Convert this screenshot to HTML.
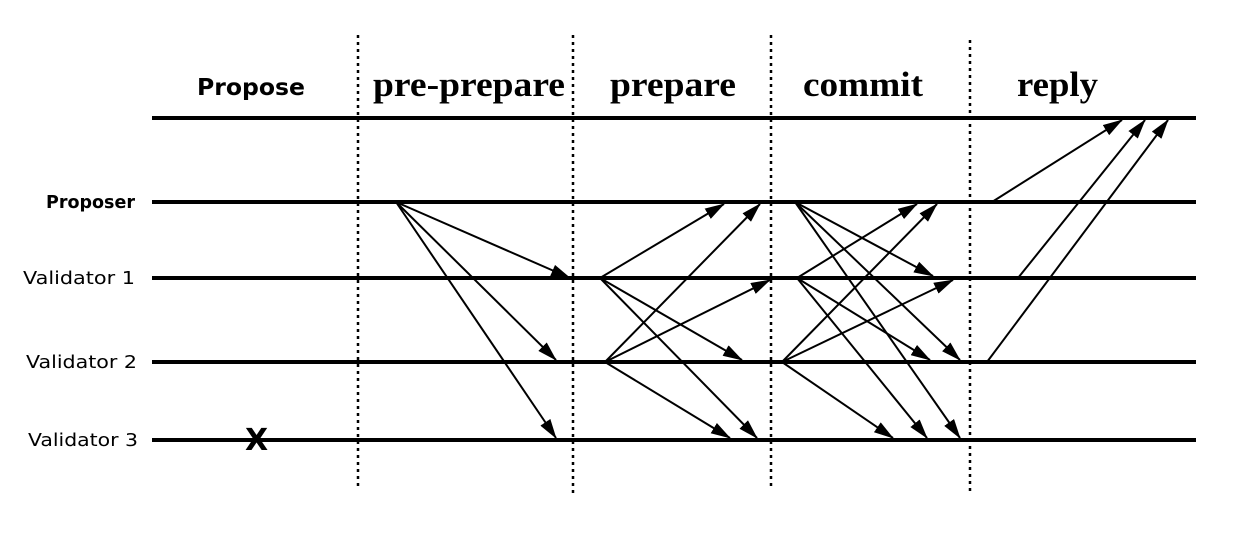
<!DOCTYPE html>
<html><head><style>
body{margin:0;background:#fff;width:1251px;height:538px;overflow:hidden}
</style></head><body>
<svg width="1251" height="538" xmlns="http://www.w3.org/2000/svg">
<defs><marker id="a" markerWidth="20" markerHeight="12" refX="19" refY="6" orient="auto" markerUnits="userSpaceOnUse" viewBox="0 0 20 12"><path d="M0,0 L20,6 L0,12 z" fill="#000"/></marker>
</defs>
<g stroke="#000" stroke-width="2.5" stroke-dasharray="3,4">
<line x1="358" y1="35" x2="358" y2="490"/><line x1="573" y1="35" x2="573" y2="495"/>
<line x1="771" y1="35" x2="771" y2="490"/><line x1="970" y1="40" x2="970" y2="495"/>
</g>
<g stroke="#000" stroke-width="4">
<line x1="152" y1="118" x2="1196" y2="118"/><line x1="152" y1="202" x2="1196" y2="202"/>
<line x1="152" y1="278" x2="1196" y2="278"/><line x1="152" y1="362" x2="1196" y2="362"/>
<line x1="152" y1="440" x2="1196" y2="440"/>
</g>
<g stroke="#000" stroke-width="2" marker-end="url(#a)" fill="none">
<line x1="396" y1="202" x2="570" y2="278"/><line x1="396" y1="202" x2="556" y2="360"/><line x1="396" y1="202" x2="556" y2="438"/>
<line x1="600" y1="278" x2="724" y2="204"/><line x1="600" y1="278" x2="742" y2="360"/><line x1="600" y1="278" x2="757" y2="438"/>
<line x1="605" y1="362" x2="760" y2="204"/><line x1="605" y1="362" x2="770" y2="280"/><line x1="605" y1="362" x2="730" y2="438"/>
<line x1="795" y1="202" x2="933" y2="276"/><line x1="795" y1="202" x2="960" y2="360"/><line x1="795" y1="202" x2="960" y2="438"/>
<line x1="797" y1="278" x2="917" y2="204"/><line x1="797" y1="278" x2="930" y2="360"/><line x1="797" y1="278" x2="927" y2="438"/>
<line x1="782" y1="362" x2="937" y2="204"/><line x1="782" y1="362" x2="953" y2="280"/><line x1="782" y1="362" x2="893" y2="438"/>
<line x1="992" y1="202" x2="1122" y2="120"/><line x1="1018" y1="278" x2="1145" y2="120"/><line x1="987" y1="362" x2="1168" y2="120"/>
</g>
<g font-family="Liberation Serif, serif" font-weight="bold" font-size="35" fill="#000">
<text x="373" y="96" textLength="192" lengthAdjust="spacingAndGlyphs">pre-prepare</text><text x="610" y="96" textLength="126" lengthAdjust="spacingAndGlyphs">prepare</text>
<text x="803" y="96" textLength="120" lengthAdjust="spacingAndGlyphs">commit</text><text x="1017" y="96" textLength="81" lengthAdjust="spacingAndGlyphs">reply</text>
</g>
<g font-family="DejaVu Sans, sans-serif" fill="#000">
<text x="197" y="95" font-size="23" font-weight="bold" textLength="108" lengthAdjust="spacingAndGlyphs">Propose</text>
<text x="46" y="208" font-size="18" font-weight="bold" textLength="89" lengthAdjust="spacingAndGlyphs">Proposer</text>
<text x="23" y="284" font-size="18" textLength="112" lengthAdjust="spacingAndGlyphs">Validator 1</text>
<text x="26" y="368" font-size="18" textLength="111" lengthAdjust="spacingAndGlyphs">Validator 2</text>
<text x="28" y="446" font-size="18" textLength="110" lengthAdjust="spacingAndGlyphs">Validator 3</text>
<text x="245" y="450" font-size="30" font-weight="bold">X</text>
</g>
</svg>
</body></html>
